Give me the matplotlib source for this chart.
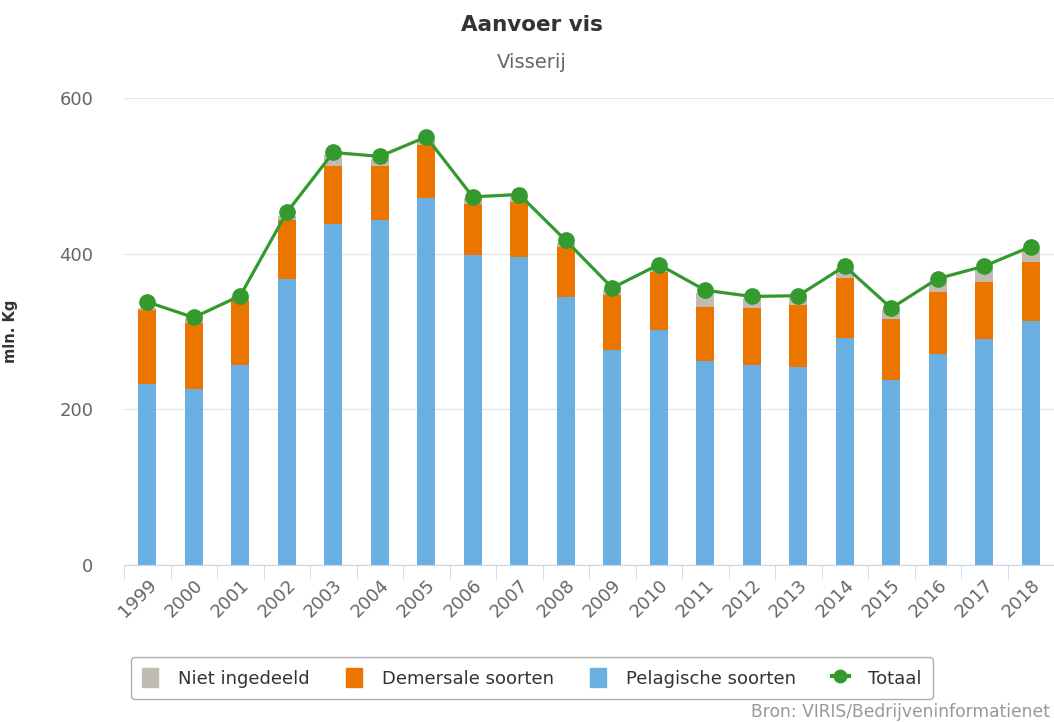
import matplotlib.pyplot as plt
import numpy as np
from matplotlib.lines import Line2D
from matplotlib.patches import Patch

years = [str(y) for y in range(1999, 2019)]
pelagisch = [233, 226, 257, 367, 438, 443, 471, 398, 396, 344,
             276, 302, 262, 257, 254, 292, 238, 271, 290, 314]
demersaal = [94, 85, 82, 76, 75, 70, 69, 66, 70, 64,
             71, 75, 70, 73, 80, 77, 78, 80, 73, 75]
niet_ingedeeld = [3, 5, 5, 6, 14, 9, 6, 8, 7, 6,
                  6, 5, 17, 13, 9, 12, 12, 13, 18, 16]
totaal = [338, 318, 346, 453, 530, 525, 550, 473, 476, 417,
          356, 386, 353, 345, 346, 384, 330, 368, 384, 409]

c_blue = '#6aafe1'
c_orange = '#ec7500'
c_grey = '#c2bbb2'
c_green = '#349a2e'

fig = plt.figure(figsize=(10.54, 7.22), dpi=100)
ax = fig.add_axes([124 / 1054, 1 - 565 / 722, 930 / 1054, 467 / 722])

x = np.arange(len(years))
pel = np.array(pelagisch)
dem = np.array(demersaal)
niet = np.array(niet_ingedeeld)
w = 0.39
ax.bar(x, pel, width=w, color=c_blue, zorder=2)
ax.bar(x, dem, width=w, bottom=pel, color=c_orange, zorder=2)
ax.bar(x, niet, width=w, bottom=pel + dem, color=c_grey, zorder=2)
ax.plot(x, totaal, color=c_green, lw=2.3, marker='o', markersize=11, zorder=3)

ax.set_xlim(-0.5, len(years) - 0.5)
ax.set_ylim(0, 600)
ax.set_yticks([0, 200, 400, 600])
ax.grid(axis='y', color='#e6e6e6', lw=1, zorder=0)
for s in ['top', 'right', 'left']:
    ax.spines[s].set_visible(False)
ax.spines['bottom'].set_color('#ccd6eb')
ax.tick_params(axis='y', length=0, pad=22, labelsize=13, labelcolor='#666666')

ax.set_xticks(x)
ax.set_xticklabels(years, rotation=45, ha='right', rotation_mode='anchor')
ax.set_xticks(np.arange(-0.5, len(years)), minor=True)
ax.tick_params(axis='x', which='major', length=0, pad=8, labelsize=13, labelcolor='#666666')
ax.tick_params(axis='x', which='minor', length=10, color='#ccd6eb')

ax.set_ylabel('mln. Kg', fontsize=10.5, fontweight='bold', color='#333333')
ax.yaxis.set_label_coords(-106 / 930, 0.5)

fig.text(532 / 1054, 1 - 25 / 722, 'Aanvoer vis', ha='center', va='center',
         fontsize=15.5, fontweight='bold', color='#333333')
fig.text(532 / 1054, 1 - 62 / 722, 'Visserij', ha='center', va='center',
         fontsize=14, color='#666666')
fig.text(1050 / 1054, 1 - 712 / 722, 'Bron: VIRIS/Bedrijveninformatienet', ha='right',
         va='center', fontsize=12.3, color='#999999')

handles = [Patch(color=c_grey), Patch(color=c_orange), Patch(color=c_blue),
           Line2D([0], [0], color=c_green, lw=3, marker='o', markersize=9)]
labels = ['Niet ingedeeld', 'Demersale soorten', 'Pelagische soorten', 'Totaal']
leg = fig.legend(handles, labels, loc='center', bbox_to_anchor=(532 / 1054, 1 - 678 / 722),
                 ncol=4, fontsize=13, frameon=True, fancybox=True,
                 handlelength=0.9, handleheight=1.2, handletextpad=1.1,
                 columnspacing=2.0, borderpad=0.6, borderaxespad=0)
for t in leg.get_texts():
    t.set_color('#333333')
leg.get_frame().set_edgecolor('#999999')
leg.get_frame().set_linewidth(1)

fig.savefig('out.png', dpi=100)
